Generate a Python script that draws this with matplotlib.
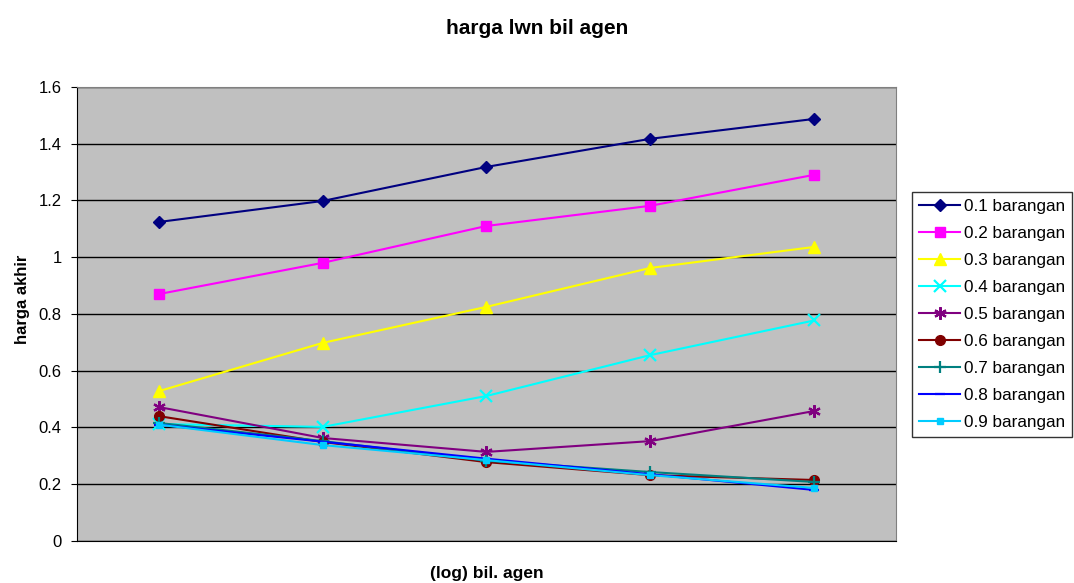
import matplotlib
matplotlib.use("Agg")
import matplotlib.pyplot as plt
import numpy as np

plt.rcParams['font.family'] = ['Liberation Sans', 'DejaVu Sans']

categories = [1, 2, 3, 4, 5]
series_labels = ["0.1 barangan", "0.2 barangan", "0.3 barangan", "0.4 barangan",
                 "0.5 barangan", "0.6 barangan", "0.7 barangan", "0.8 barangan",
                 "0.9 barangan"]
s01 = [1.124, 1.198, 1.318, 1.417, 1.487]
s02 = [0.870, 0.980, 1.110, 1.181, 1.290]
s03 = [0.528, 0.698, 0.825, 0.962, 1.036]
s04 = [0.412, 0.402, 0.511, 0.655, 0.777]
s05 = [0.472, 0.363, 0.314, 0.352, 0.458]
s06 = [0.440, 0.349, 0.278, 0.232, 0.215]
s07 = [0.416, 0.352, 0.283, 0.243, 0.208]
s08 = [0.410, 0.350, 0.290, 0.235, 0.180]
s09 = [0.410, 0.338, 0.285, 0.232, 0.187]
series = [s01, s02, s03, s04, s05, s06, s07, s08, s09]
yticks = [0, 0.2, 0.4, 0.6, 0.8, 1, 1.2, 1.4, 1.6]
ytick_labels = ["0", "0.2", "0.4", "0.6", "0.8", "1", "1.2", "1.4", "1.6"]

colors = ["#000080", "#FF00FF", "#FFFF00", "#00FFFF", "#800080",
          "#800000", "#008080", "#0000FF", "#00CCFF"]
markers = ["D", "s", "^", "x", (6, 2, 0), "o", "+", "_", "s"]
msizes = [6, 7, 8, 8, 9, 7, 9, 7, 5]

fig = plt.figure(figsize=(10.74, 5.83), dpi=100)
ax = fig.add_axes([0.0717, 0.072, 0.7625, 0.779])
ax.set_facecolor("#C0C0C0")

for vals, lab, c, m, ms in zip(series, series_labels, colors, markers, msizes):
    kw = dict(color=c, marker=m, markersize=ms, linewidth=1.5, label=lab,
              markerfacecolor=c, markeredgecolor=c)
    if m in ("x", "+", (6, 2, 0), "_"):
        kw["markeredgewidth"] = 1.6
    ax.plot(categories, vals, **kw)

ax.set_xlim(0.5, 5.5)
ax.set_ylim(0, 1.6)
ax.set_yticks(yticks)
ax.set_yticklabels(ytick_labels, fontsize=12)
ax.set_xticks([])
ax.yaxis.grid(True, color="black", linewidth=1)
ax.set_axisbelow(True)
ax.tick_params(axis='y', direction='out', length=4, color="black", pad=7)
for sp in ax.spines.values():
    sp.set_color("#808080")
ax.spines['left'].set_color("black")
ax.spines['bottom'].set_color("black")

ax.set_ylabel("harga akhir", fontsize=12, fontweight="bold")
ax.yaxis.set_label_coords(-0.057, 0.533)
ax.set_xlabel("(log) bil. agen", fontsize=12.5, fontweight="bold", labelpad=18)
fig.suptitle("harga lwn bil agen", fontsize=15, fontweight="bold", y=0.968)

leg = ax.legend(loc="center left", bbox_to_anchor=(1.02, 0.499), fontsize=12.3,
                frameon=True, fancybox=False, edgecolor="black",
                handlelength=2.4, handletextpad=0.25, labelspacing=0.7,
                borderpad=0.4, borderaxespad=0)
leg.get_frame().set_linewidth(1)

fig.savefig("out.png", dpi=100)
